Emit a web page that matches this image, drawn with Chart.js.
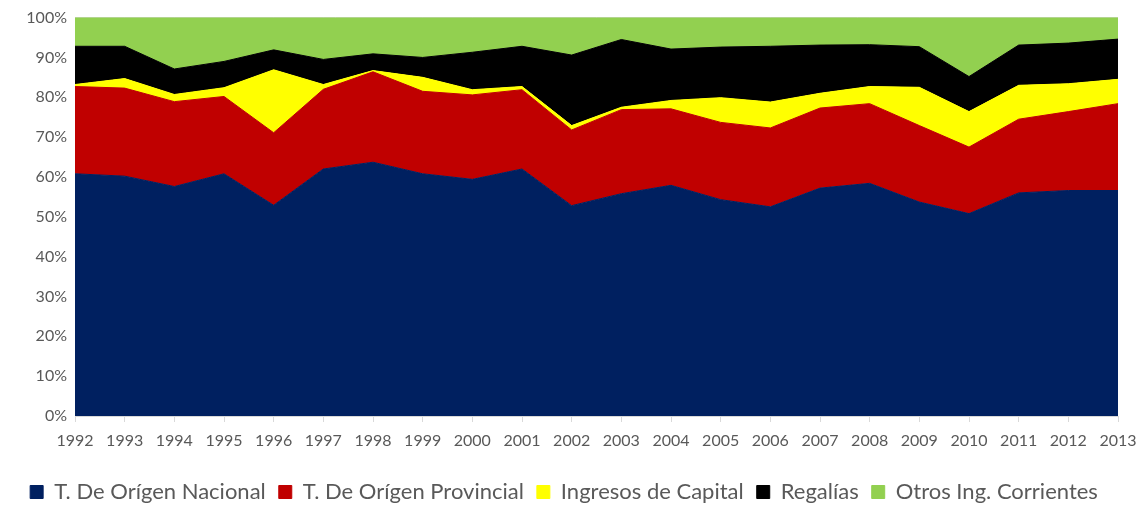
<!DOCTYPE html>
<html>
<head>
<meta charset="utf-8">
<script src="https://cdn.jsdelivr.net/npm/chart.js@4/dist/chart.umd.min.js"></script>
<style>
  html, body { margin: 0; padding: 0; background: #fff; }
  #wrap { width: 1147px; height: 507px; }
</style>
</head>
<body>
<div id="wrap"><canvas id="share-chart"></canvas></div>
<script>
'use strict';

// categories
let years = ['1992', '1993', '1994', '1995', '1996', '1997', '1998', '1999', '2000', '2001', '2002',
             '2003', '2004', '2005', '2006', '2007', '2008', '2009', '2010', '2011', '2012', '2013'];

// series (% of total)
let nacional   = [60.8, 60.2, 57.6, 60.8, 52.9, 62.0, 63.7, 60.8, 59.4, 62.0, 52.8, 55.8, 57.9, 54.3, 52.5, 57.2, 58.4, 53.7, 50.8, 56.0, 56.6, 56.6];
let provincial = [21.9, 22.1, 21.3, 19.4, 18.2, 20.0, 22.7, 20.7, 21.2, 19.9, 19.0, 21.1, 19.2, 19.4, 19.8, 20.1, 20.0, 19.2, 16.7, 18.5, 19.8, 21.8];
let capital    = [0.5, 2.4, 1.8, 2.2, 15.8, 1.2, 0.3, 3.5, 1.3, 0.8, 1.1, 0.6, 2.1, 6.2, 6.5, 3.7, 4.3, 9.6, 8.9, 8.5, 7.0, 6.1];
let regalias   = [9.6, 8.1, 6.4, 6.6, 5.0, 6.3, 4.2, 5.0, 9.4, 10.1, 17.7, 17.0, 12.9, 12.7, 14.0, 12.1, 10.5, 10.2, 8.8, 10.1, 10.2, 10.1];
let otros      = [7.2, 7.2, 12.9, 11.0, 8.1, 10.5, 9.1, 10.0, 8.7, 7.2, 9.4, 5.5, 7.9, 7.4, 7.2, 6.9, 6.8, 7.3, 14.8, 6.9, 6.4, 5.4];

// y ticks
let yTicks = [0, 10, 20, 30, 40, 50, 60, 70, 80, 90, 100];

let textColor = '#595959';
let fontName = 'Lato, "Open Sans", sans-serif';

function area(label, data, color, fill) {
    return {
        label: label,
        data: data,
        backgroundColor: color,
        borderColor: color,
        borderWidth: 1,
        pointRadius: 0,
        pointHoverRadius: 0,
        tension: 0,
        fill: fill
    };
}

// pull the legend a bit lower (trim its box so it sits nearer the bottom)
let legendShift = {
    id: 'legendShift',
    afterInit: function (chart) {
        let legend = chart.legend;
        if (!legend) return;
        let fit = legend.fit;
        legend.fit = function () {
            fit.call(this);
            this.height -= 6;
        };
    }
};

new Chart(document.getElementById('share-chart'), {
    type: 'line',
    data: {
        labels: years,
        datasets: [
            area('T. De Orígen Nacional', nacional, '#002060', 'origin'),
            area('T. De Orígen Provincial', provincial, '#C00000', '-1'),
            area('Ingresos de Capital', capital, '#FFFF00', '-1'),
            area('Regalías', regalias, '#000000', '-1'),
            area('Otros Ing. Corrientes', otros, '#92D050', '-1')
        ]
    },
    plugins: [legendShift],
    options: {
        responsive: true,
        maintainAspectRatio: false,
        animation: false,
        layout: { padding: { left: 10, right: 29, top: 7, bottom: 0 } },
        plugins: {
            tooltip: { enabled: false },
            legend: {
                position: 'bottom',
                labels: {
                    color: textColor,
                    font: { family: fontName, size: 22 },
                    boxWidth: 13,
                    boxHeight: 13,
                    padding: 13
                }
            }
        },
        scales: {
            x: {
                offset: false,
                grid: { display: true, drawOnChartArea: false, color: '#d9d9d9', tickLength: 6 },
                border: { color: '#d9d9d9' },
                ticks: {
                    color: textColor,
                    font: { family: fontName, size: 16 },
                    maxRotation: 0,
                    autoSkip: false,
                    padding: 9
                },
                afterFit: function (scale) { scale.height = 52; }
            },
            y: {
                stacked: true,
                min: 0,
                max: 100,
                afterBuildTicks: function (scale) {
                    scale.ticks = yTicks.map(function (v) { return { value: v }; });
                },
                grid: { color: '#d9d9d9', drawTicks: false },
                border: { display: false },
                ticks: {
                    color: textColor,
                    font: { family: fontName, size: 16 },
                    padding: 8,
                    callback: function (v) { return v + '%'; }
                },
                afterFit: function (scale) { scale.width = 65; }
            }
        }
    }
});
</script>
</body>
</html>
